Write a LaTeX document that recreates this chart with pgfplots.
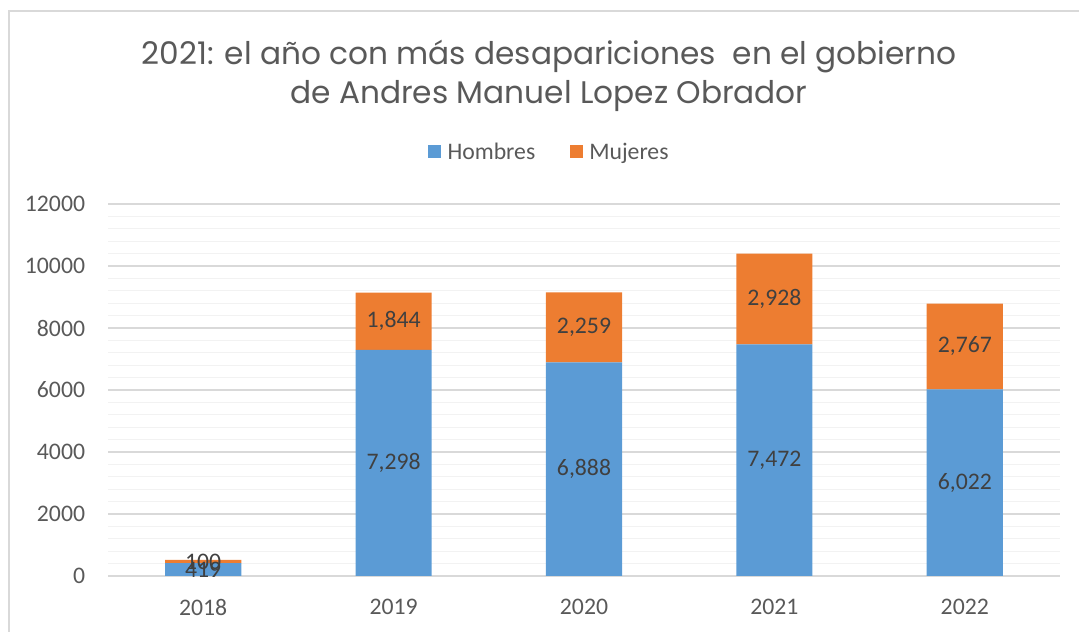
\documentclass[border=0pt]{standalone}
\usepackage{pgfplots}
\pgfplotsset{compat=1.18}
\usepackage{pgfplotstable}
\usepackage{fontspec}
\setmainfont{Carlito}
\newfontfamily\titlefont{Poppins}

\definecolor{hombres}{HTML}{5B9BD5}
\definecolor{mujeres}{HTML}{ED7D31}
\definecolor{txt}{HTML}{595959}
\definecolor{lbl}{HTML}{404040}
\definecolor{gridmaj}{HTML}{D9D9D9}
\definecolor{gridmin}{HTML}{F2F2F2}

% desapariciones por anio
\pgfplotstableread{
x anio hombres mujeres
0 2018 419  100
1 2019 7298 1844
2 2020 6888 2259
3 2021 7472 2928
4 2022 6022 2767
}\datos

\newcommand{\lblfont}{\fontsize{17.8}{20}\selectfont}

\begin{document}
\begin{tikzpicture}[x=0.75pt,y=0.75pt]
\path[use as bounding box] (0,0) rectangle (1079,632);
\draw[gridmaj,line width=1.2pt] (9,-5) -- (9,621) -- (1085,621);
\node[font=\titlefont\fontsize{23.4}{29.6}\selectfont,text=txt,align=center]
  at (549,556) {2021: el año con más desapariciones\ \ en el gobierno\\de Andres Manuel Lopez Obrador};
\begin{axis}[
    at={(81pt,42pt)}, anchor=south west,
    scale only axis, width=714pt, height=279pt,
    ybar stacked, bar width=0.4,
    xmin=-0.5, xmax=4.5, ymin=0, ymax=12000,
    xtick={0,...,4},
    xticklabels from table={\datos}{anio},
    ytick={0,2000,...,12000},
    minor y tick num=4,
    ymajorgrids, yminorgrids,
    major grid style={gridmaj, line width=0.9pt},
    minor grid style={gridmin, line width=0.9pt},
    major tick length=0pt, minor tick length=0pt,
    axis x line*=bottom, axis y line*=left,
    separate axis lines,
    x axis line style={gridmaj, line width=0.9pt, -},
    y axis line style={draw=none},
    scaled y ticks=false,
    /pgf/number format/assume math mode=true,
    tick label style={font=\lblfont, text=txt},
    yticklabel style={/pgf/number format/1000 sep={}, inner sep=0pt, xshift=-17pt},
    xticklabel style={inner sep=0pt, yshift=-17pt},
    legend style={at={(0.464,1.14)}, anchor=center, draw=none, fill=none,
        legend columns=2, font=\lblfont, text=txt,
        /tikz/every even column/.append style={column sep=24pt}},
    legend image code/.code={\path[#1,draw=none] (0pt,-4.5pt) rectangle (9.5pt,5pt);},
    every node near coord/.append style={anchor=center, text=lbl, font=\lblfont},
]
\addplot[fill=hombres, draw=none, point meta=explicit, nodes near coords]
    table[x=x, y=hombres, meta=hombres] {\datos};
\addlegendentry{\,Hombres}
\addplot[fill=mujeres, draw=none, point meta=explicit, nodes near coords]
    table[x=x, y=mujeres, meta=mujeres] {\datos};
\addlegendentry{\,Mujeres}
\end{axis}
\end{tikzpicture}
\end{document}
